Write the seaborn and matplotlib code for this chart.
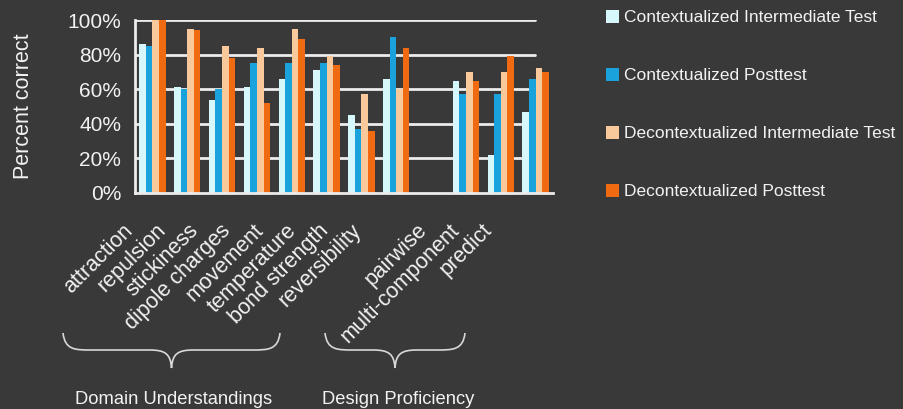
import numpy as np
import pandas as pd
import matplotlib
matplotlib.use("Agg")
import matplotlib.pyplot as plt
from matplotlib.path import Path
from matplotlib.patches import PathPatch, Patch
from matplotlib.transforms import ScaledTranslation
import seaborn as sns

categories = ["attraction", "repulsion", "stickiness", "dipole charges", "movement",
              "temperature", "bond strength", "reversibility", " ",
              "pairwise", "multi-component", "predict"]
series = ["Contextualized Intermediate Test", "Contextualized Posttest",
          "Decontextualized Intermediate Test", "Decontextualized Posttest"]
ctx_inter = [86, 61, 54, 61, 66, 71, 45, 66, np.nan, 65, 22, 47]
ctx_post = [85, 60, 60, 75, 75, 75, 37, 90, np.nan, 57, 57, 66]
dectx_inter = [100, 95, 85, 84, 95, 79, 57, 60, np.nan, 70, 70, 72]
dectx_post = [100, 94, 78, 52, 89, 74, 36, 84, np.nan, 65, 79, 70]
yticks = [0, 20, 40, 60, 80, 100]
group_names = ["Domain Understandings", "Design Proficiency"]

colors = ["#d6f7fb", "#1aa2dd", "#f9c99b", "#f06a12"]
bg = "#393939"
fg = "#f2f2f2"

rows = []
for s, vals in zip(series, [ctx_inter, ctx_post, dectx_inter, dectx_post]):
    for c, v in zip(categories, vals):
        rows.append({"category": c, "series": s, "value": v})
df = pd.DataFrame(rows)

sns.set_style("dark")
plt.rcParams["font.family"] = ["Liberation Sans", "DejaVu Sans"]

W, H = 904, 409
fig = plt.figure(figsize=(W / 100, H / 100), dpi=100, facecolor=bg)
ax = fig.add_axes([135 / W, 1 - 193 / H, (553 - 135) / W, (193 - 20) / H])
ax.set_facecolor(bg)

sns.barplot(data=df, x="category", y="value", hue="series", order=categories,
            hue_order=series, palette=colors, width=0.76, saturation=1,
            linewidth=0, errorbar=None, ax=ax, legend=False, zorder=3)

ax.set_xlim(-0.5, len(categories) - 0.5)
ax.set_ylim(0, 100)
ax.set_yticks(yticks)
ax.set_yticklabels([f"{t}%" for t in yticks], color=fg, fontsize=15)
ax.grid(False)
for t in yticks[1:]:
    ax.axhline(t, xmin=0, xmax=(535 - 135) / (553 - 135), color="#ececec", lw=2, zorder=1)

ax.set_xticks(range(len(categories)))
ax.set_xticklabels(categories, rotation=45, ha="right", va="top",
                   rotation_mode="anchor", color=fg, fontsize=15.5)
ax.tick_params(axis="x", which="major", length=0, pad=10)
ax.set_xticks(np.arange(-0.5, len(categories), 1.0), minor=True)
ax.tick_params(axis="x", which="minor", length=8, width=2, color="#ececec", direction="inout")
ax.tick_params(axis="y", length=8, width=2, color="#ececec", direction="inout", pad=6)

# labels in the reference are spaced slightly tighter than the ticks
for i, lab in enumerate(ax.get_xticklabels()):
    dx = -30 - 2.2 * i
    dy = -13
    lab.set_transform(lab.get_transform() + ScaledTranslation(dx / 100, dy / 100, fig.dpi_scale_trans))

for side in ["top", "right"]:
    ax.spines[side].set_visible(False)
for side in ["left", "bottom"]:
    ax.spines[side].set_color("#ececec")
    ax.spines[side].set_linewidth(2)
    ax.spines[side].set_zorder(4)

ax.set_xlabel("")
ax.set_ylabel("Percent correct", color=fg, fontsize=15.5, labelpad=24)

handles = [Patch(facecolor=c, edgecolor="none") for c in colors]
fig.legend(handles, series, loc="upper left", bbox_to_anchor=(606 / W, 1 - 10 / H),
           frameon=False, fontsize=12.5, labelcolor=fg, handlelength=0.75,
           handleheight=0.75, handletextpad=0.3, labelspacing=2.45,
           borderaxespad=0, borderpad=0)

def brace(x0, x1, yt, ym, yb):
    xc = (x0 + x1) / 2
    pts = [(x0, yt), (x0 + 2, ym), (x0 + 12, ym), (x0 + 28, ym),
           (xc - 22, ym), (xc - 22, ym), (xc - 22, ym),
           (xc - 6, ym), (xc - 1, ym + 4), (xc, yb),
           (xc + 1, ym + 4), (xc + 6, ym), (xc + 22, ym),
           (x1 - 28, ym), (x1 - 28, ym), (x1 - 28, ym),
           (x1 - 12, ym), (x1 - 2, ym), (x1, yt)]
    pts = [(x / W, 1 - y / H) for x, y in pts]
    codes = [Path.MOVETO] + [Path.CURVE4] * 18
    p = PathPatch(Path(pts, codes), transform=fig.transFigure, fill=False,
                  edgecolor="#d8d8d8", lw=1.2)
    fig.add_artist(p)

brace(63, 280, 333, 350, 368)
brace(325, 465, 333, 350, 368)

fig.text(174 / W, 1 - 400 / H, group_names[0], color=fg, fontsize=13.2, ha="center", va="center")
fig.text(398 / W, 1 - 400 / H, group_names[1], color=fg, fontsize=13.2, ha="center", va="center")

fig.savefig("out.png", dpi=100, facecolor=bg)
